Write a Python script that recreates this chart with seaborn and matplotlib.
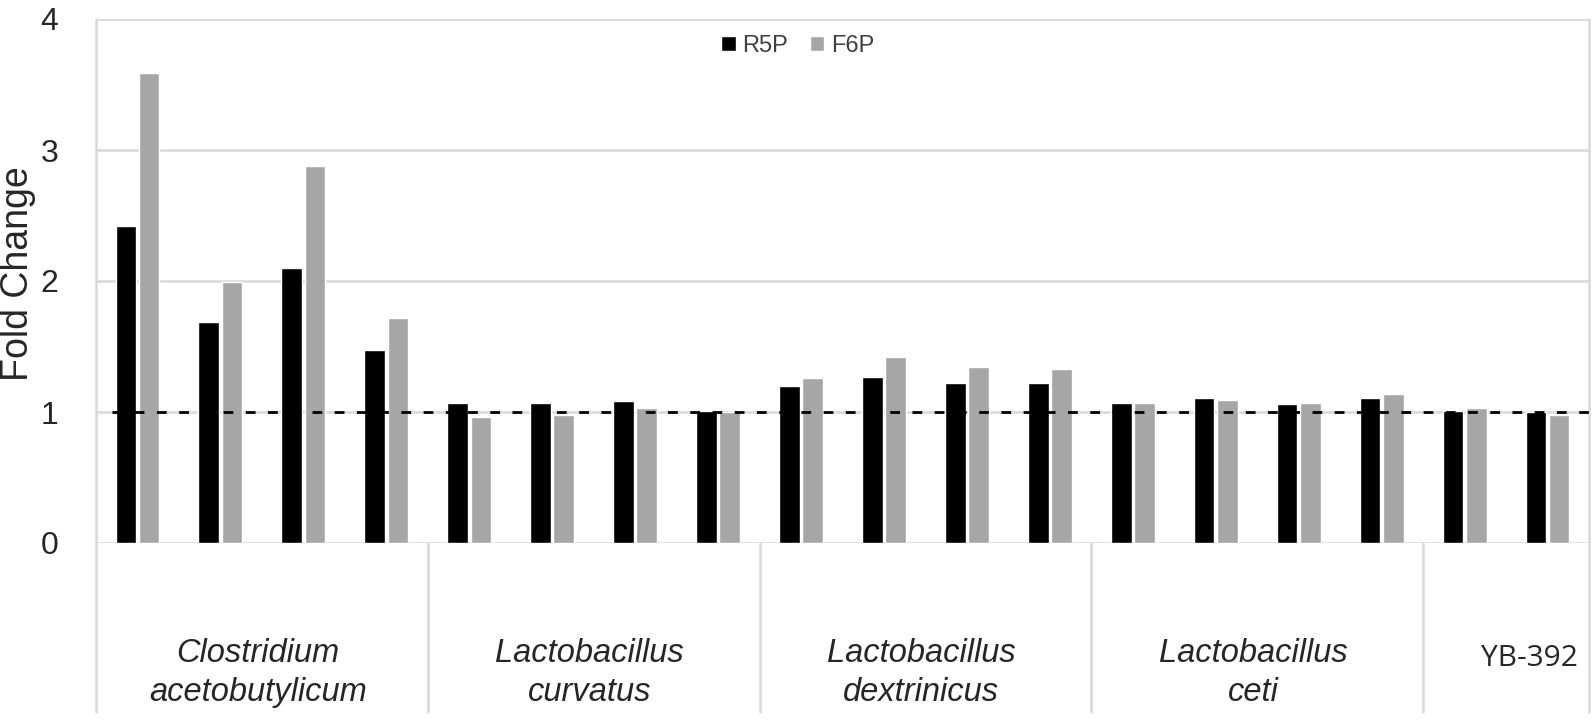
import pandas as pd
import matplotlib.pyplot as plt
import seaborn as sns

# fold change values, one per sample
r5p = [2.42, 1.69, 2.10, 1.47,
       1.07, 1.07, 1.085, 1.01,
       1.20, 1.27, 1.22, 1.22,
       1.07, 1.11, 1.06, 1.11,
       1.005, 1.00]
f6p = [3.59, 1.99, 2.88, 1.72,
       0.96, 0.975, 1.03, 1.00,
       1.26, 1.42, 1.34, 1.33,
       1.07, 1.095, 1.07, 1.14,
       1.03, 0.975]
groups = ['Clostridium\nacetobutylicum', 'Lactobacillus\ncurvatus',
          'Lactobacillus\ndextrinicus', 'Lactobacillus\nceti', 'YB-392']
group_sizes = [4, 4, 4, 4, 2]

n = len(r5p)
df = pd.DataFrame({
    'sample': list(range(n)) * 2,
    'value': r5p + f6p,
    'metabolite': ['R5P'] * n + ['F6P'] * n,
})

sns.set_style('white')
plt.rcParams['font.family'] = ['Liberation Sans', 'DejaVu Sans']

fig = plt.figure(figsize=(15.94, 7.24), dpi=100)
ax = fig.add_axes([96 / 1594, (724 - 543) / 724, 1493 / 1594, 524 / 724])

sns.barplot(data=df, x='sample', y='value', hue='metabolite',
            palette=['#000000', '#a6a6a6'], width=0.56, gap=0.11,
            saturation=1, ax=ax)

ax.set_ylim(0, 4)
ax.set_xlim(-0.5, n - 0.5)
ax.set_yticks([0, 1, 2, 3, 4])
ax.tick_params(axis='y', labelsize=23, length=0, pad=27, labelcolor='#262626')
ax.set_xticks([])
ax.set_xlabel('')
ax.set_ylabel('Fold Change', fontsize=27, color='#262626')
ax.yaxis.set_label_coords(-0.04, 0.515)

grid_c = '#d9d9d9'
for yv in [0, 1, 2, 3, 4]:
    ax.axhline(yv, color=grid_c, lw=1.8, zorder=0)
for s in ['top', 'bottom', 'left', 'right']:
    ax.spines[s].set_visible(False)

ax.axhline(1, color='black', lw=2, linestyle=(0, (3.5, 4.5)), zorder=5,
           xmin=0.011)

# category boundaries and labels below the axis
tr = ax.get_xaxis_transform()
bounds = [-0.5]
for sz in group_sizes:
    bounds.append(bounds[-1] + sz)
bottom = -(712 - 543) / 524
for i, b in enumerate(bounds):
    top = 1 if i in (0, len(bounds) - 1) else 0
    ax.plot([b, b], [bottom, top], color=grid_c, lw=1.8, transform=tr,
            clip_on=False, zorder=0)
for i, g in enumerate(groups):
    cx = (bounds[i] + bounds[i + 1]) / 2
    if '\n' in g:
        ax.text(cx - 0.05, -(673 - 543) / 524, g, transform=tr, ha='center',
                va='center', fontsize=23.5, style='italic', linespacing=1.3)
    else:
        ax.text(cx + 0.28, -(658 - 543) / 524, g, transform=tr, ha='center',
                va='center', fontsize=21.5, family=['Open Sans', 'DejaVu Sans'])

leg = ax.legend(loc='center', bbox_to_anchor=(0.47, 0.948), ncol=2,
                frameon=False, fontsize=17, handlelength=0.6, handleheight=0.6,
                handletextpad=0.3, columnspacing=0.9)
for t in leg.get_texts():
    t.set_color('#404040')

fig.savefig('out.png', dpi=100)
